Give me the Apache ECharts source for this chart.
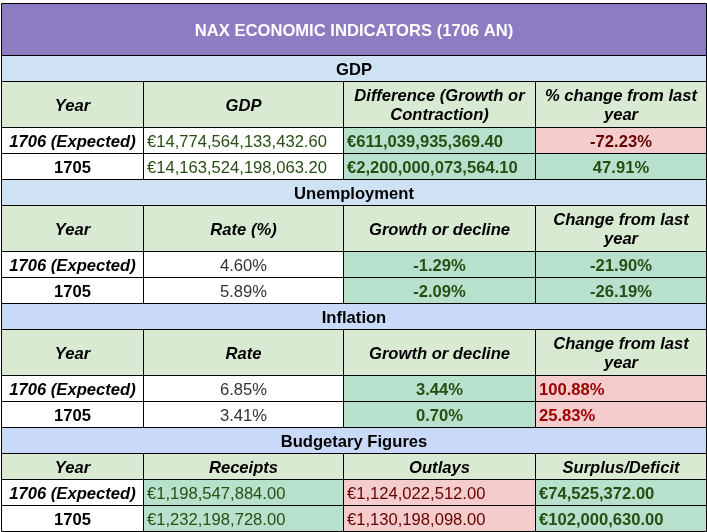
<!DOCTYPE html>
<html>
<head>
<meta charset="utf-8">
<script src="https://cdn.jsdelivr.net/npm/echarts@6/dist/echarts.min.js"></script>
<style>
html,body{margin:0;padding:0;background:#fff;}
#chart{width:707px;height:532px;}
</style>
</head>
<body>
<div id="chart"></div>
<script>
// ---------- DATA ----------
const title = "NAX ECONOMIC INDICATORS (1706 AN)";
const sectionNames = ["GDP", "Unemployment", "Inflation", "Budgetary Figures"];
const years = ["1706 (Expected)", "1705"];

const gdpHeaders = ["Year", "GDP", "Difference (Growth or\nContraction)", "% change from last\nyear"];
const gdpLevel = [14774564133432.60, 14163524198063.20];
const gdpDifference = [611039935369.40, 2200000073564.10];
const gdpChange = [-72.23, 47.91];

const unempHeaders = ["Year", "Rate (%)", "Growth or decline", "Change from last\nyear"];
const unempRate = [4.60, 5.89];
const unempGrowth = [-1.29, -2.09];
const unempChange = [-21.90, -26.19];

const inflHeaders = ["Year", "Rate", "Growth or decline", "Change from last\nyear"];
const inflRate = [6.85, 3.41];
const inflGrowth = [3.44, 0.70];
const inflChange = [100.88, 25.83];

const budgetHeaders = ["Year", "Receipts", "Outlays", "Surplus/Deficit"];
const receipts = [1198547884.00, 1232198728.00];
const outlays = [1124022512.00, 1130198098.00];
const surplus = [74525372.00, 102000630.00];

// ---------- FORMATTERS ----------
const euro = v => '€' + v.toLocaleString('en-US', {minimumFractionDigits: 2, maximumFractionDigits: 2});
const pct = v => v.toFixed(2) + '%';

// ---------- STYLES ----------
const FONT = '"Liberation Sans", Arial, sans-serif';
const FSIZE = '16.6px ';
const C = {
  green: '#b7e1cd', red: '#f4cccc', head: '#d9ead3', white: '#ffffff',
  band1: '#cfe2f3', band2: '#c9daf8', titleBg: '#8e7cc3',
  gTxt: '#274e13', rTxt: '#660000', rTxt2: '#990000', plain: '#333333', black: '#000000'
};
const S = {
  gBoldL: {bg: C.green, fg: C.gTxt, w: 'bold', a: 'left'},
  gBoldC: {bg: C.green, fg: C.gTxt, w: 'bold', a: 'center'},
  gRegL: {bg: C.green, fg: C.gTxt, w: 'normal', a: 'left'},
  rBoldC: {bg: C.red, fg: C.rTxt, w: 'bold', a: 'center'},
  rBoldL2: {bg: C.red, fg: C.rTxt2, w: 'bold', a: 'left'},
  rRegL: {bg: C.red, fg: C.rTxt, w: 'normal', a: 'left'},
  wGreenL: {bg: C.white, fg: C.gTxt, w: 'normal', a: 'left'},
  wPlainC: {bg: C.white, fg: C.plain, w: 'normal', a: 'center'}
};

// ---------- LAYOUT ----------
const colEdges = [1, 143, 343, 535, 706];
const tableTop = 3, titleH = 52, bandH = 26, rowH = 26;

const sections = [
  {name: sectionNames[0], band: C.band1, headers: gdpHeaders, headH: 46, cols: [
    {v: gdpLevel, f: euro, s: [S.wGreenL, S.wGreenL]},
    {v: gdpDifference, f: euro, s: [S.gBoldL, S.gBoldL]},
    {v: gdpChange, f: pct, s: [S.rBoldC, S.gBoldC]}]},
  {name: sectionNames[1], band: C.band1, headers: unempHeaders, headH: 46, cols: [
    {v: unempRate, f: pct, s: [S.wPlainC, S.wPlainC]},
    {v: unempGrowth, f: pct, s: [S.gBoldC, S.gBoldC]},
    {v: unempChange, f: pct, s: [S.gBoldC, S.gBoldC]}]},
  {name: sectionNames[2], band: C.band2, headers: inflHeaders, headH: 46, cols: [
    {v: inflRate, f: pct, s: [S.wPlainC, S.wPlainC]},
    {v: inflGrowth, f: pct, s: [S.gBoldC, S.gBoldC]},
    {v: inflChange, f: pct, s: [S.rBoldL2, S.rBoldL2]}]},
  {name: sectionNames[3], band: C.band2, headers: budgetHeaders, headH: 26, cols: [
    {v: receipts, f: euro, s: [S.gRegL, S.gRegL]},
    {v: outlays, f: euro, s: [S.rRegL, S.rRegL]},
    {v: surplus, f: euro, s: [S.gBoldL, S.gBoldL]}]}
];

const cells = [];
const L = colEdges[0], R = colEdges[colEdges.length - 1];
let y = tableTop;
cells.push({x0: L, x1: R, y0: y, y1: y + titleH, text: title, bg: C.titleBg, fg: '#ffffff', w: 'bold', st: 'normal', a: 'center'});
y += titleH;
sections.forEach(sec => {
  cells.push({x0: L, x1: R, y0: y, y1: y + bandH, text: sec.name, bg: sec.band, fg: C.black, w: 'bold', st: 'normal', a: 'center'});
  y += bandH;
  sec.headers.forEach((h, c) => {
    cells.push({x0: colEdges[c], x1: colEdges[c + 1], y0: y, y1: y + sec.headH, text: h, bg: C.head, fg: C.black, w: 'bold', st: 'italic', a: 'center'});
  });
  y += sec.headH;
  years.forEach((yr, r) => {
    cells.push({x0: colEdges[0], x1: colEdges[1], y0: y, y1: y + rowH, text: yr, bg: C.white, fg: C.black, w: 'bold', st: r === 0 ? 'italic' : 'normal', a: 'center'});
    sec.cols.forEach((col, c) => {
      const s = col.s[r];
      cells.push({x0: colEdges[c + 1], x1: colEdges[c + 2], y0: y, y1: y + rowH, text: col.f(col.v[r]), bg: s.bg, fg: s.fg, w: s.w, st: 'normal', a: s.a});
    });
    y += rowH;
  });
});

const chart = echarts.init(document.getElementById('chart'), null, {renderer: 'canvas'});
chart.setOption({
  animation: false,
  backgroundColor: '#ffffff',
  grid: {left: 0, right: 0, top: 0, bottom: 0},
  xAxis: {type: 'value', min: 0, max: 707, show: false},
  yAxis: {type: 'value', min: 0, max: 532, inverse: true, show: false},
  series: [{
    type: 'custom',
    coordinateSystem: 'cartesian2d',
    encode: {x: [0, 1], y: [2, 3]},
    data: cells.map((c, i) => [c.x0, c.x1, c.y0, c.y1, i]),
    renderItem: function (params, api) {
      const c = cells[api.value(4)];
      const p0 = api.coord([api.value(0), api.value(2)]);
      const p1 = api.coord([api.value(1), api.value(3)]);
      const x0 = Math.round(Math.min(p0[0], p1[0]));
      const x1 = Math.round(Math.max(p0[0], p1[0]));
      const y0 = Math.round(Math.min(p0[1], p1[1]));
      const y1 = Math.round(Math.max(p0[1], p1[1]));
      const tx = c.a === 'left' ? x0 + 4 : (x0 + x1) / 2 + 0.5;
      const ty = (y0 + y1) / 2 + 2;
      return {
        type: 'group',
        children: [
          {type: 'rect', shape: {x: x0 + 0.5, y: y0 + 0.5, width: x1 - x0, height: y1 - y0},
           style: {fill: c.bg, stroke: '#000', lineWidth: 1}},
          {type: 'text', style: {text: c.text, x: tx, y: ty, align: c.a, verticalAlign: 'middle',
           font: c.st + ' ' + c.w + ' ' + FSIZE + FONT, fill: c.fg, lineHeight: 19}}
        ]
      };
    }
  }]
});
</script>
</body>
</html>
